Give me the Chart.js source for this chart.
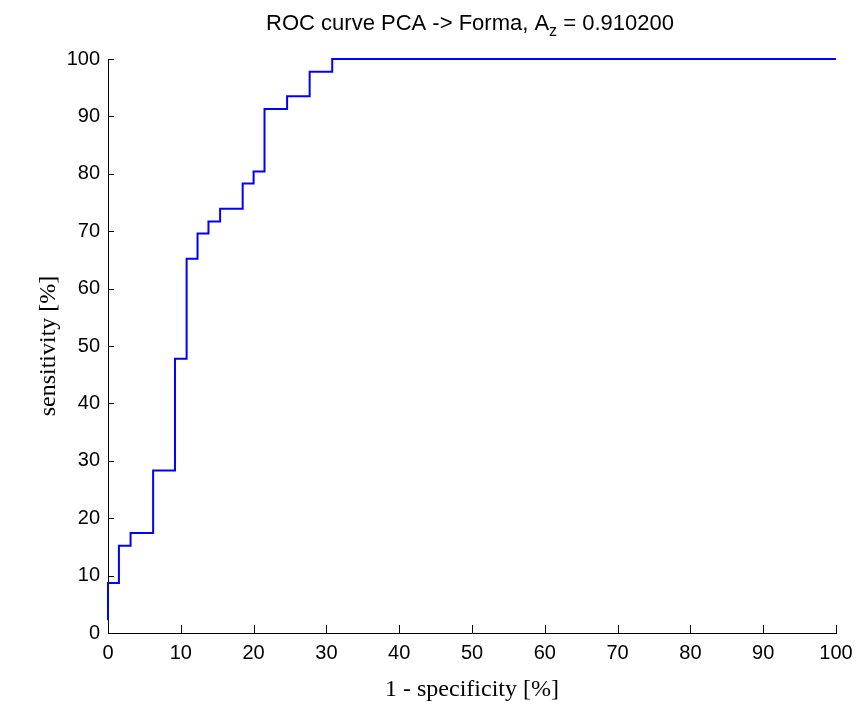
<!DOCTYPE html>
<html lang="en">
  <head>
    <meta charset="UTF-8" />
    <title>ROC curve PCA -> Forma</title>
    <script src="https://cdn.jsdelivr.net/npm/chart.js@4.4.1/dist/chart.umd.min.js"></script>
    <style>
      body { margin: 0; background: #fff; }
    </style>
  </head>
  <body>
    <div>
      <canvas id="chart" width="858" height="708"></canvas>
    </div>
    <script>
        // ROC corner points (1 - specificity, sensitivity), in %
        const fpr = [0, 1.5, 3.1, 6.2, 9.2, 10.8, 12.3, 13.8, 15.4, 18.5, 20.0, 21.5, 24.6, 27.7, 30.8, 100];
        const tpr = [2.2, 8.7, 15.2, 17.4, 28.3, 47.8, 65.2, 69.6, 71.7, 73.9, 78.3, 80.4, 91.3, 93.5, 97.8, 100];
        const xTicks = [0, 10, 20, 30, 40, 50, 60, 70, 80, 90, 100];
        const yTicks = [0, 10, 20, 30, 40, 50, 60, 70, 80, 90, 100];
        const titleMain = 'ROC curve PCA -> Forma, A';
        const titleSub = 'z';
        const titleEnd = ' = 0.910200';

        const points = fpr.map((x, i) => ({x: x, y: tpr[i]}));

        // matlab style ticks pointing into the plot
        const inwardTicks = {
            id: 'inwardTicks',
            afterDraw(chart) {
                const ctx = chart.ctx;
                const xs = chart.scales.x, ys = chart.scales.y;
                ctx.save();
                ctx.strokeStyle = '#000';
                ctx.lineWidth = 1;
                ctx.beginPath();
                xTicks.forEach(v => {
                    const px = Math.round(xs.getPixelForValue(v)) + 0.5;
                    ctx.moveTo(px, ys.bottom);
                    ctx.lineTo(px, ys.bottom - 8);
                });
                yTicks.forEach(v => {
                    const py = Math.round(ys.getPixelForValue(v)) + 0.5;
                    ctx.moveTo(xs.left, py);
                    ctx.lineTo(xs.left + 6, py);
                });
                ctx.stroke();
                ctx.restore();
            }
        };

        // title with subscript z
        const subTitle = {
            id: 'subTitle',
            afterDraw(chart) {
                const ctx = chart.ctx;
                const area = chart.chartArea;
                ctx.save();
                ctx.fillStyle = '#000';
                ctx.textBaseline = 'alphabetic';
                const big = '22px "Liberation Sans", Arial, sans-serif';
                const small = '16px "Liberation Sans", Arial, sans-serif';
                ctx.font = big;
                const w1 = ctx.measureText(titleMain).width;
                const w3 = ctx.measureText(titleEnd).width;
                ctx.font = small;
                const w2 = ctx.measureText(titleSub).width;
                let x = (area.left + area.right) / 2 - (w1 + w2 + w3) / 2 - 2;
                const base = 30;
                ctx.font = big;
                ctx.fillText(titleMain, x, base);
                x += w1;
                ctx.font = small;
                ctx.fillText(titleSub, x, base + 6);
                x += w2;
                ctx.font = big;
                ctx.fillText(titleEnd, x, base);
                ctx.restore();
            }
        };

        const ctx = document.getElementById('chart').getContext('2d');
        const myChart = new Chart(ctx, {
            type: 'line',
            data: {
                datasets: [{
                    label: 'ROC',
                    data: points,
                    borderColor: '#0000ff',
                    borderWidth: 2,
                    pointRadius: 0,
                    stepped: 'after',
                    fill: false,
                    clip: false
                }]
            },
            options: {
                responsive: false,
                animation: false,
                layout: { padding: { top: 59, right: 22, left: 0, bottom: 0 } },
                plugins: {
                    legend: { display: false },
                    tooltip: { enabled: false }
                },
                scales: {
                    x: {
                        type: 'linear',
                        min: 0,
                        max: 100,
                        afterBuildTicks: s => { s.ticks = xTicks.map(v => ({value: v})); },
                        afterFit: s => { s.height = 75; },
                        grid: { display: false },
                        border: { display: true, color: '#000', width: 1 },
                        ticks: {
                            color: '#000',
                            padding: 0,
                            maxRotation: 0,
                            font: { family: '"Liberation Sans", Arial, sans-serif', size: 20 }
                        },
                        title: {
                            display: true,
                            text: '1 - specificity [%]',
                            color: '#000',
                            padding: { top: 0, bottom: 4 },
                            font: { family: '"Liberation Serif", "Times New Roman", serif', size: 24 }
                        }
                    },
                    y: {
                        type: 'linear',
                        min: 0,
                        max: 100,
                        afterBuildTicks: s => { s.ticks = yTicks.map(v => ({value: v})); },
                        afterFit: s => { s.width = 108; },
                        grid: { display: false },
                        border: { display: true, color: '#000', width: 1 },
                        ticks: {
                            color: '#000',
                            padding: 0,
                            font: { family: '"Liberation Sans", Arial, sans-serif', size: 20 }
                        },
                        title: {
                            display: true,
                            text: 'sensitivity [%]',
                            color: '#000',
                            padding: { top: 34, bottom: 0 },
                            font: { family: '"Liberation Serif", "Times New Roman", serif', size: 24 }
                        }
                    }
                }
            },
            plugins: [inwardTicks, subTitle]
        });
    </script>
  </body>
</html>
